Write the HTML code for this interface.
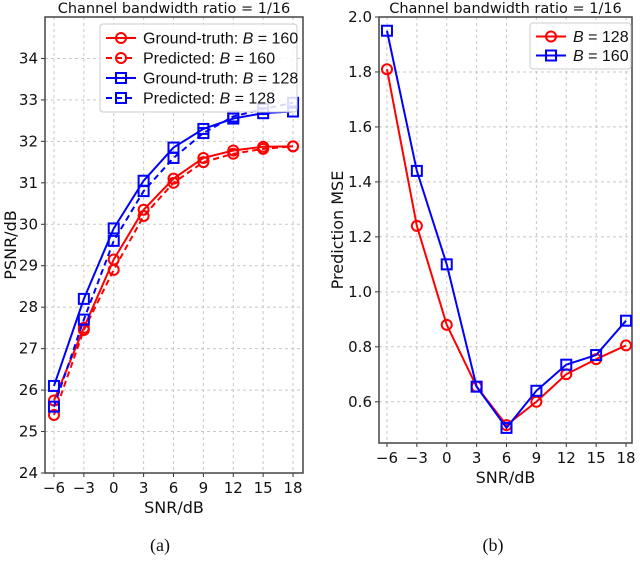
<!DOCTYPE html>
<html><head><meta charset="utf-8"><style>
body{margin:0;background:#fff;width:640px;height:559px;overflow:hidden}
svg{font-family:"DejaVu Sans","Liberation Sans",sans-serif}
</style></head><body>
<svg id="fig" width="640" height="559" viewBox="0 0 640 559"></svg>
<script>
const snr = [-6,-3,0,3,6,9,12,15,18];
const gt160 = [25.75,27.5,29.15,30.35,31.1,31.6,31.78,31.87,31.88];
const pred160 = [25.4,27.45,28.9,30.2,31.0,31.5,31.7,31.82,31.88];
const gt128 = [26.1,28.2,29.9,31.05,31.85,32.3,32.55,32.68,32.72];
const pred128 = [25.6,27.7,29.6,30.8,31.6,32.2,32.6,32.78,32.93];
const mse128 = [1.81,1.24,0.88,0.655,0.515,0.60,0.70,0.755,0.805];
const mse160 = [1.95,1.44,1.10,0.655,0.505,0.64,0.735,0.77,0.895];
const xTicks = [-6,-3,0,3,6,9,12,15,18];
const yTicksA = [24,25,26,27,28,29,30,31,32,33,34];
const yTicksB = [0.6,0.8,1.0,1.2,1.4,1.6,1.8,2.0];

const NS="http://www.w3.org/2000/svg";
const svg=document.getElementById('fig');
function el(tag,attrs,parent){const e=document.createElementNS(NS,tag);for(const k in attrs)e.setAttribute(k,attrs[k]);(parent||svg).appendChild(e);return e;}

function panel(cfg){
  const g=el('g',{});
  
  
  const X=v=>cfg.x0+(v-cfg.xmin)/(cfg.xmax-cfg.xmin)*(cfg.x1-cfg.x0);
  const Y=v=>cfg.y1-(v-cfg.ymin)/(cfg.ymax-cfg.ymin)*(cfg.y1-cfg.y0);
  xTicks.forEach(t=>{
    const l=el('line',{x1:X(t),x2:X(t),y1:cfg.y0,y2:cfg.y1,stroke:'#c8c8c8','stroke-dasharray':'3,3','stroke-width':1},g);
    
    el('line',{x1:X(t),x2:X(t),y1:cfg.y1,y2:cfg.y1+4,stroke:'#333'},g);
    const tx=el('text',{x:X(t),y:cfg.y1+20,'text-anchor':'middle','font-size':15,fill:'#111'},g);
    tx.textContent=t<0?'\u2212'+(-t):t;
    
  });
  cfg.yTicks.forEach(t=>{
    const l=el('line',{x1:cfg.x0,x2:cfg.x1,y1:Y(t),y2:Y(t),stroke:'#c8c8c8','stroke-dasharray':'3,3','stroke-width':1},g);
    
    el('line',{x1:cfg.x0-4,x2:cfg.x0,y1:Y(t),y2:Y(t),stroke:'#333'},g);
    const tx=el('text',{x:cfg.x0-7,y:Y(t)+5,'text-anchor':'end','font-size':15,fill:'#111'},g);
    tx.textContent=cfg.fmt(t);
    
  });
  const fr=el('rect',{x:cfg.x0,y:cfg.y0,width:cfg.x1-cfg.x0,height:cfg.y1-cfg.y0,fill:'none',stroke:'#444','stroke-width':1.5},g);
  
  cfg.series.forEach(s=>{
    const sg=el('g',{},g);
    
    const pts=snr.map((x,i)=>X(x)+','+Y(s.v[i])).join(' ');
    el('polyline',{points:pts,fill:'none',stroke:s.c,'stroke-width':2,'stroke-dasharray':s.dash?'6,4':'none'},sg);
    snr.forEach((x,i)=>{
      let m;
      if(s.m==='o')m=el('circle',{cx:X(x),cy:Y(s.v[i]),r:5,fill:'none',stroke:s.c,'stroke-width':2},sg);
      else m=el('rect',{x:X(x)-5,y:Y(s.v[i])-5,width:10,height:10,fill:'none',stroke:s.c,'stroke-width':2},sg);
      
    });
  });
  const t=el('text',{x:(cfg.x0+cfg.x1)/2,y:13,'text-anchor':'middle','font-size':14.5,fill:'#111'},g);
  t.textContent='Channel bandwidth ratio = 1/16';
  const xl=el('text',{x:(cfg.x0+cfg.x1)/2,y:cfg.y1+40,'text-anchor':'middle','font-size':16,fill:'#111'},g);
  xl.textContent='SNR/dB';
  const yl=el('text',{x:0,y:0,'text-anchor':'middle','font-size':16,fill:'#111',transform:`translate(${cfg.ylx},${(cfg.y0+cfg.y1)/2}) rotate(-90)`},g);
  yl.textContent=cfg.ylabel;
  const cap=el('text',{x:cfg.capx,y:cfg.capy,'text-anchor':'middle','font-size':18,fill:'#111','font-family':'Liberation Serif,serif'},g);
  cap.textContent=cfg.cap;
  const lg=el('g',{},g);
  el('rect',{x:cfg.lx,y:cfg.ly,width:cfg.lw,height:cfg.series.length*cfg.lstep+8,rx:3,fill:'#fff','fill-opacity':0.85,stroke:'#ccc'},lg);
  cfg.series.forEach((s,i)=>{
    const eg=el('g',{},lg);
    const cy=cfg.ly+4+cfg.lstep*(i+0.5);
    el('line',{x1:cfg.lx+6,x2:cfg.lx+36,y1:cy,y2:cy,stroke:s.c,'stroke-width':2,'stroke-dasharray':s.dash?'6,4':'none'},eg);
    if(s.m==='o')el('circle',{cx:cfg.lx+21,cy:cy,r:5,fill:'none',stroke:s.c,'stroke-width':2},eg);
    else el('rect',{x:cfg.lx+16,y:cy-5,width:10,height:10,fill:'none',stroke:s.c,'stroke-width':2},eg);
    const tx=el('text',{x:cfg.lx+43,y:cy+5.5,'font-size':16,fill:'#111','font-family':'Liberation Sans,sans-serif'},eg);
    tx.innerHTML=s.label;
  });
}
panel({name:'psnr-chart',x0:45,x1:303,y0:17,y1:473,xmin:-6.9,xmax:19,ymin:24,ymax:35,yTicks:yTicksA,fmt:t=>String(t),
  ylabel:'PSNR/dB',ylx:16,cap:'(a)',capx:160,capy:551,lx:100,ly:24,lw:197,lstep:20,
  series:[{name:'gt-b160',v:gt160,c:'#f00',m:'o',label:'Ground-truth: <tspan font-style="italic">B</tspan> = 160'},
          {name:'pred-b160',v:pred160,c:'#f00',m:'o',dash:true,label:'Predicted: <tspan font-style="italic">B</tspan> = 160'},
          {name:'gt-b128',v:gt128,c:'#00f',m:'s',label:'Ground-truth: <tspan font-style="italic">B</tspan> = 128'},
          {name:'pred-b128',v:pred128,c:'#00f',m:'s',dash:true,label:'Predicted: <tspan font-style="italic">B</tspan> = 128'}]});
panel({name:'mse-chart',x0:379,x1:632,y0:17,y1:443,xmin:-6.8,xmax:18.6,ymin:0.45,ymax:2.0,yTicks:yTicksB,fmt:t=>t.toFixed(1),
  ylabel:'Prediction MSE',ylx:343,cap:'(b)',capx:493,capy:551,lx:530,ly:23,lw:101,lstep:19,
  series:[{name:'mse-b128',v:mse128,c:'#f00',m:'o',label:'<tspan font-style="italic">B</tspan> = 128'},
          {name:'mse-b160',v:mse160,c:'#00f',m:'s',label:'<tspan font-style="italic">B</tspan> = 160'}]});
</script>
</body></html>
